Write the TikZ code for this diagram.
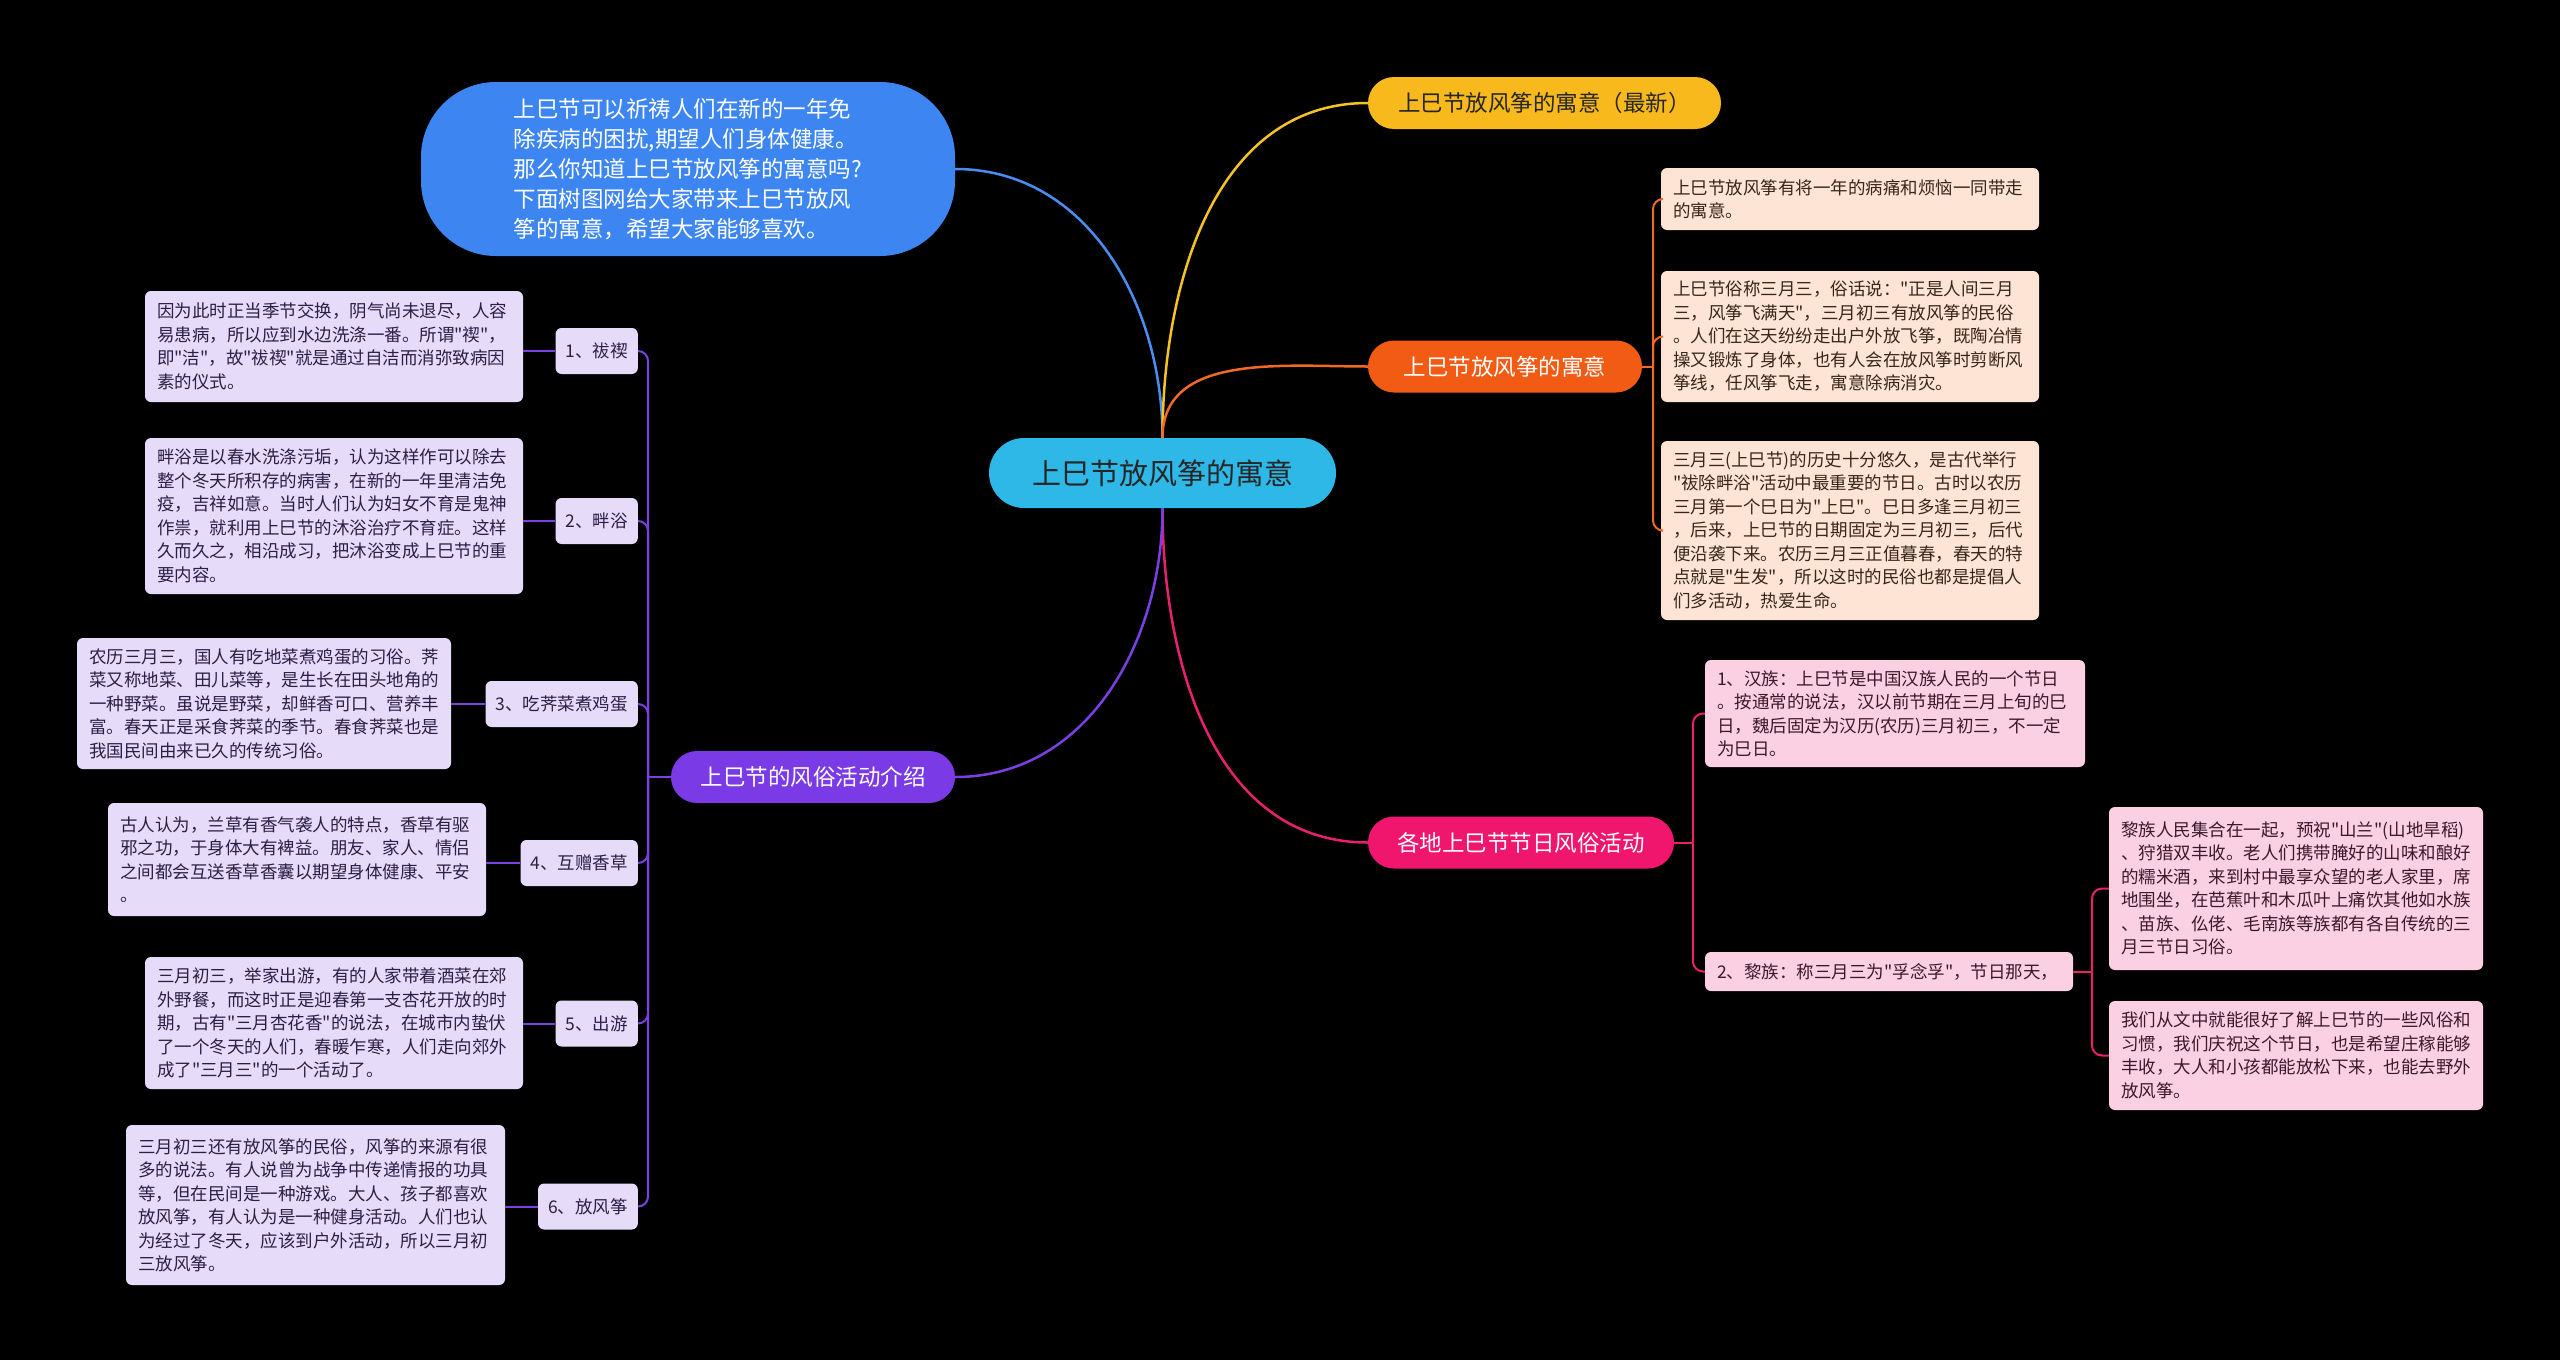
\documentclass[tikz,border=0pt]{standalone}
\usepackage{fontspec}
\setmainfont{Noto Sans CJK SC}[Ligatures=TeXOff]
\definecolor{bgc}{HTML}{000000}
\definecolor{cyanc}{HTML}{2DB8E8}
\definecolor{bluec}{HTML}{3D86F2}
\definecolor{yelc}{HTML}{F7B91C}
\definecolor{orac}{HTML}{F25B13}
\definecolor{pinc}{HTML}{F0166E}
\definecolor{purc}{HTML}{7A3BE6}
\definecolor{lavfill}{HTML}{E6DCFA}
\definecolor{lavtext}{HTML}{2B1F45}
\definecolor{peafill}{HTML}{FDE4D4}
\definecolor{peatext}{HTML}{3A2618}
\definecolor{pkfill}{HTML}{FCD0E3}
\definecolor{pktext}{HTML}{3A1A2A}
\definecolor{lblue}{HTML}{4A8EF4}
\definecolor{lyel}{HTML}{F6C324}
\definecolor{lora}{HTML}{F06A24}
\definecolor{lpink}{HTML}{E8206E}
\definecolor{lpur}{HTML}{7B40E4}
\tikzset{
  small/.style={font=\fontsize{17.5pt}{23.5pt}\selectfont},
  box/.style={small, rounded corners=6pt, align=left, inner xsep=12pt, inner ysep=0pt, text width=354pt},
  lavbox/.style={box, fill=lavfill, text=lavtext},
  peabox/.style={box, fill=peafill, text=peatext},
  pkbox/.style={box, fill=pkfill, text=pktext},
  lbl/.style={small, fill=lavfill, text=lavtext, rounded corners=6pt, inner xsep=10pt, inner ysep=0pt, minimum height=46pt, anchor=east},
  mainn/.style={font=\fontsize{22.5pt}{28pt}\selectfont, rounded corners=26pt, minimum height=52pt, inner sep=0pt},
  conn/.style={line width=2.5pt},
  sub/.style={line width=2pt, rounded corners=10pt},
}
\begin{document}
\begin{tikzpicture}[x=1pt,y=-1pt]
\fill[bgc] (0,0) rectangle (2560,1360);
\useasboundingbox (0,0) rectangle (2560,1360);

% central node
\node[font=\fontsize{29pt}{34pt}\selectfont, fill=cyanc, text=black!85, rounded corners=35pt, minimum width=347pt, minimum height=70pt, inner sep=0pt] (center) at (1162.5,473) {上巳节放风筝的寓意};

% top-left bubble
\node[font=\fontsize{22.5pt}{30pt}\selectfont, fill=bluec, text=white, rounded corners=75pt, minimum width=534pt, minimum height=174pt, align=left, inner sep=0pt] (blue) at (688,169) {上巳节可以祈祷人们在新的一年免\\除疾病的困扰,期望人们身体健康。\\那么你知道上巳节放风筝的寓意吗?\\下面树图网给大家带来上巳节放风\\筝的寓意，希望大家能够喜欢。};

% main branches
\node[mainn, fill=yelc, text=black!85, minimum width=353pt] (yel) at (1544.5,103) {上巳节放风筝的寓意（最新）};
\node[mainn, fill=orac, text=white, minimum width=274pt] (ora) at (1505,366.5) {上巳节放风筝的寓意};
\node[mainn, fill=pinc, text=white, minimum width=306pt] (pink) at (1521,842.5) {各地上巳节节日风俗活动};
\node[mainn, fill=purc, text=white, minimum width=284pt] (pur) at (813,777) {上巳节的风俗活动介绍};

% connectors from center
\draw[conn, lblue] (center.north) to[out=90,in=0] (blue.east);
\draw[conn, lyel] (center.north) to[out=90,in=180] (yel.west);
\draw[conn, lora] (center.north) to[out=90,in=180] (ora.west);
\draw[conn, lpink] (center.south) to[out=-90,in=180] (pink.west);
\draw[conn, lpur] (center.south) to[out=-90,in=0] (pur.east);

% orange children
\node[peabox, minimum height=62pt] (O1) at (1850,199) {上巳节放风筝有将一年的病痛和烦恼一同带走\\的寓意。};
\node[peabox, minimum height=131pt] (O2) at (1850,336.5) {上巳节俗称三月三，俗话说："正是人间三月\\三，风筝飞满天"，三月初三有放风筝的民俗\\。人们在这天纷纷走出户外放飞筝，既陶冶情\\操又锻炼了身体，也有人会在放风筝时剪断风\\筝线，任风筝飞走，寓意除病消灾。};
\node[peabox, minimum height=179pt] (O3) at (1850,530.5) {三月三(上巳节)的历史十分悠久，是古代举行\\"祓除畔浴"活动中最重要的节日。古时以农历\\三月第一个巳日为"上巳"。巳日多逢三月初三\\，后来，上巳节的日期固定为三月初三，后代\\便沿袭下来。农历三月三正值暮春，春天的特\\点就是"生发"，所以这时的民俗也都是提倡人\\们多活动，热爱生命。};
\coordinate (oj) at (1653,366.5);
\draw[sub, lora] (ora.east) -- (oj);
\draw[sub, lora] (oj) |- (O1.west);
\draw[sub, lora] (oj) |- (O2.west);
\draw[sub, lora] (oj) |- (O3.west);

% pink children
\node[pkbox, text width=356pt, minimum height=107pt] (K1) at (1895,713.5) {1、汉族：上巳节是中国汉族人民的一个节日\\。按通常的说法，汉以前节期在三月上旬的巳\\日，魏后固定为汉历(农历)三月初三，不一定\\为巳日。};
\node[pkbox, text width=344pt, minimum height=39pt] (K2) at (1889,971.5) {2、黎族：称三月三为"孚念孚"，节日那天，};
\node[pkbox, text width=350pt, minimum height=163pt] (K2a) at (2296,888.5) {黎族人民集合在一起，预祝"山兰"(山地旱稻)\\、狩猎双丰收。老人们携带腌好的山味和酿好\\的糯米酒，来到村中最享众望的老人家里，席\\地围坐，在芭蕉叶和木瓜叶上痛饮其他如水族\\、苗族、仫佬、毛南族等族都有各自传统的三\\月三节日习俗。};
\node[pkbox, text width=350pt, minimum height=109pt] (K2b) at (2296,1055.5) {我们从文中就能很好了解上巳节的一些风俗和\\习惯，我们庆祝这个节日，也是希望庄稼能够\\丰收，大人和小孩都能放松下来，也能去野外\\放风筝。};
\coordinate (kj) at (1693,842.5);
\draw[sub, lpink] (pink.east) -- (kj);
\draw[sub, lpink] (kj) |- (K1.west);
\draw[sub, lpink] (kj) |- (K2.west);
\coordinate (kj2) at (2092,971.5);
\draw[sub, lpink] (K2.east) -- (kj2);
\draw[sub, lpink] (kj2) |- (K2a.west);
\draw[sub, lpink] (kj2) |- (K2b.west);

% purple children: labels
\node[lbl] (L1) at (638,351) {1、祓禊};
\node[lbl] (L2) at (638,521) {2、畔浴};
\node[lbl] (L3) at (638,704) {3、吃荠菜煮鸡蛋};
\node[lbl] (L4) at (638,863) {4、互赠香草};
\node[lbl] (L5) at (638,1023.5) {5、出游};
\node[lbl] (L6) at (638,1206.5) {6、放风筝};

% purple children: texts
\node[lavbox, minimum height=111pt] (P1) at (334,346.5) {因为此时正当季节交换，阴气尚未退尽，人容\\易患病，所以应到水边洗涤一番。所谓"禊"，\\即"洁"，故"祓禊"就是通过自洁而消弥致病因\\素的仪式。};
\node[lavbox, minimum height=156pt] (P2) at (334,516) {畔浴是以春水洗涤污垢，认为这样作可以除去\\整个冬天所积存的病害，在新的一年里清洁免\\疫，吉祥如意。当时人们认为妇女不育是鬼神\\作祟，就利用上巳节的沐浴治疗不育症。这样\\久而久之，相沿成习，把沐浴变成上巳节的重\\要内容。};
\node[lavbox, text width=350pt, minimum height=131pt] (P3) at (264,703.5) {农历三月三，国人有吃地菜煮鸡蛋的习俗。荠\\菜又称地菜、田儿菜等，是生长在田头地角的\\一种野菜。虽说是野菜，却鲜香可口、营养丰\\富。春天正是采食荠菜的季节。春食荠菜也是\\我国民间由来已久的传统习俗。};
\node[lavbox, minimum height=113pt] (P4) at (297,859.5) {古人认为，兰草有香气袭人的特点，香草有驱\\邪之功，于身体大有裨益。朋友、家人、情侣\\之间都会互送香草香囊以期望身体健康、平安\\。};
\node[lavbox, minimum height=132pt] (P5) at (334,1023) {三月初三，举家出游，有的人家带着酒菜在郊\\外野餐，而这时正是迎春第一支杏花开放的时\\期，古有"三月杏花香"的说法，在城市内蛰伏\\了一个冬天的人们，春暖乍寒，人们走向郊外\\成了"三月三"的一个活动了。};
\node[lavbox, text width=355pt, minimum height=160pt] (P6) at (315.5,1205) {三月初三还有放风筝的民俗，风筝的来源有很\\多的说法。有人说曾为战争中传递情报的功具\\等，但在民间是一种游戏。大人、孩子都喜欢\\放风筝，有人认为是一种健身活动。人们也认\\为经过了冬天，应该到户外活动，所以三月初\\三放风筝。};

% purple bracket
\coordinate (pj) at (648,777);
\draw[sub, lpur] (pur.west) -- (pj);
\foreach \l in {L1,L2,L3,L4,L5,L6} {
  \draw[sub, lpur] (pj) |- (\l.east);
}
\draw[sub, lpur] (P1.east |- L1.west) -- (L1.west);
\draw[sub, lpur] (P2.east |- L2.west) -- (L2.west);
\draw[sub, lpur] (P3.east |- L3.west) -- (L3.west);
\draw[sub, lpur] (P4.east |- L4.west) -- (L4.west);
\draw[sub, lpur] (P5.east |- L5.west) -- (L5.west);
\draw[sub, lpur] (P6.east |- L6.west) -- (L6.west);
\end{tikzpicture}
\end{document}
